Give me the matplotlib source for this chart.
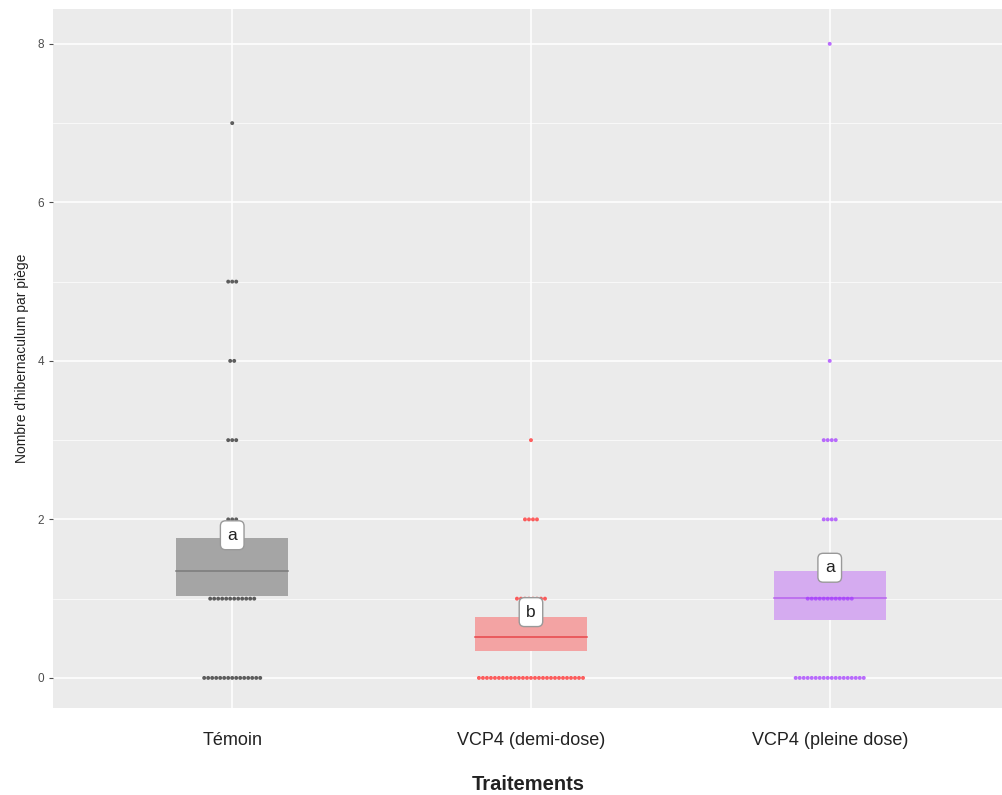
import matplotlib
matplotlib.use("Agg")
import matplotlib.pyplot as plt
import numpy as np

categories = ["Témoin", "VCP4 (demi-dose)", "VCP4 (pleine dose)"]
# observed counts per trap: values and number of traps at each value
values_temoin = [0, 1, 2, 3, 4, 5, 7]
counts_temoin = [15, 12, 3, 3, 2, 3, 1]
values_demi = [0, 1, 2, 3]
counts_demi = [27, 8, 4, 1]
values_pleine = [0, 1, 2, 3, 4, 8]
counts_pleine = [18, 12, 4, 4, 1, 1]

# model estimate and confidence band
est_mean = [1.35, 0.52, 1.01]
est_low = [1.03, 0.34, 0.73]
est_high = [1.77, 0.77, 1.35]
letters = ["a", "b", "a"]
letter_y = [1.80, 0.83, 1.39]

fill_colors = ["#a5a5a5", "#f3a3a3", "#d5abf0"]
line_colors = ["#7a7a7a", "#e8464a", "#b862ee"]
dot_colors = ["#2a2a2a", "#ff2a2a", "#a43cff"]

plt.rcParams['font.family'] = ['Liberation Sans', 'DejaVu Sans']
fig = plt.figure(figsize=(10.03, 7.95), dpi=100)
ax = fig.add_axes([0.0528, 0.1094, 0.9472, 0.8793])
ax.set_facecolor("#ebebeb")
for s in ax.spines.values():
    s.set_visible(False)

ax.set_xlim(0.4, 3.58)
ax.set_ylim(-0.38, 8.44)
ax.set_yticks([0, 2, 4, 6, 8])
ax.set_yticks([1, 3, 5, 7], minor=True)
ax.set_xticks([1, 2, 3])
ax.set_xticklabels(categories, fontsize=13, color="#222222")
ax.tick_params(axis="y", labelsize=8.5, colors="#4d4d4d", length=3, width=0.8)
ax.tick_params(axis="y", which="minor", length=0)
ax.tick_params(axis="x", length=0, pad=17)
ax.grid(True, which="major", color="white", linewidth=1.1)
ax.grid(True, which="minor", color="white", linewidth=0.5, axis="y")
ax.set_axisbelow(True)

box_w = 0.375
binw = 0.0134
groups = [(values_temoin, counts_temoin), (values_demi, counts_demi), (values_pleine, counts_pleine)]
for i, (vals, cnts) in enumerate(groups):
    xc = i + 1
    ax.fill_between([xc - box_w / 2, xc + box_w / 2], est_low[i], est_high[i],
                    color=fill_colors[i], linewidth=0, zorder=2)
    ax.plot([xc - box_w / 2, xc + box_w / 2], [est_mean[i]] * 2, color=line_colors[i], lw=1.1, zorder=3)
    for v, n in zip(vals, cnts):
        xs = xc + (np.arange(n) - (n - 1) / 2) * binw
        ax.scatter(xs, [v] * n, s=8, marker="o", color=dot_colors[i], edgecolors="none", zorder=4, alpha=0.75)
    ax.text(xc, letter_y[i], letters[i], ha="center", va="center", fontsize=12.5, color="#222222", zorder=6,
            bbox=dict(boxstyle="round,pad=0.4,rounding_size=0.3", fc="white", ec="#999999", lw=1.0))

ax.set_ylabel("Nombre d'hibernaculum par piège", fontsize=10, color="#222222", labelpad=6)
ax.set_xlabel("Traitements", fontsize=14.5, fontweight="bold", color="#222222", labelpad=19)

fig.savefig("out.png", dpi=100)
